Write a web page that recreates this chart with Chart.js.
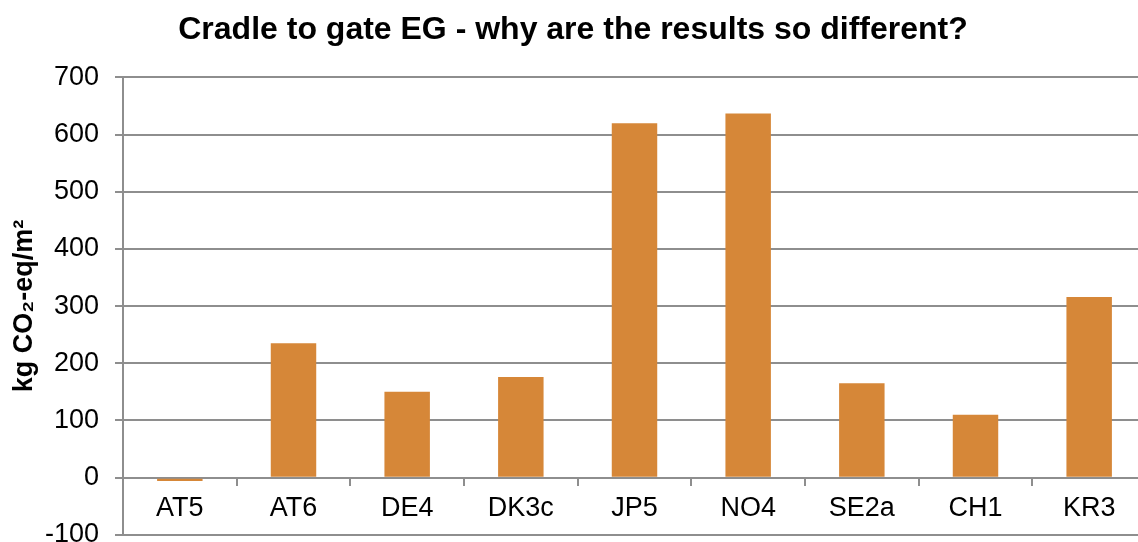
<!DOCTYPE html>
<html>
<head>
<meta charset="utf-8">
<title>Cradle to gate EG</title>
<script src="https://cdn.jsdelivr.net/npm/chart.js@4"></script>
<style>
  html, body { margin: 0; padding: 0; background: #fff; overflow: hidden; }
  #frame { width: 1138px; height: 542px; overflow: hidden; }
  #wrap { position: relative; width: 1151px; height: 567px; }
</style>
</head>
<body>
<div id="frame"><div id="wrap"><canvas id="egChart"></canvas></div></div>
<script>
// Embodied GHG per case, kg CO2-eq per m2
const cases = ['AT5', 'AT6', 'DE4', 'DK3c', 'JP5', 'NO4', 'SE2a', 'CH1', 'KR3'];
const emissions = [-6, 235, 150, 176, 620, 637, 165, 110, 316];
const yTicks = [-100, 0, 100, 200, 300, 400, 500, 600, 700];

const FONT = 'Arial, "Liberation Sans", sans-serif';
const GRID = '#8e8e8e';

new Chart(document.getElementById('egChart'), {
  type: 'bar',
  data: {
    labels: cases,
    datasets: [{
      data: emissions,
      backgroundColor: '#d68738',
      borderWidth: 0,
      barPercentage: 0.4,
      categoryPercentage: 1
    }]
  },
  options: {
    responsive: true,
    maintainAspectRatio: false,
    animation: false,
    layout: { padding: { top: 0, right: 5, bottom: 0, left: 0 } },
    plugins: {
      legend: { display: false },
      tooltip: { enabled: false },
      title: {
        display: true,
        text: 'Cradle to gate EG - why are the results so different?',
        color: '#000',
        font: { family: FONT, size: 32, weight: 'bold' },
        padding: { top: 11, bottom: 28 }
      }
    },
    scales: {
      x: {
        position: { y: 0 },
        offset: true,
        grid: {
          offset: true,
          drawOnChartArea: false,
          drawTicks: true,
          tickLength: 7,
          color: GRID,
          lineWidth: 2
        },
        border: { display: true, color: GRID, width: 2 },
        ticks: {
          color: '#000',
          padding: 8,
          maxRotation: 0,
          font: { family: FONT, size: 27 }
        }
      },
      y: {
        min: -100,
        max: 700,
        afterBuildTicks: (scale) => { scale.ticks = yTicks.map(v => ({ value: v })); },
        afterFit: (scale) => { scale.width = 123; },
        grid: { color: GRID, lineWidth: 2, tickLength: 8 },
        border: { display: true, color: GRID, width: 2 },
        ticks: {
          color: '#000',
          padding: 16,
          font: { family: FONT, size: 27 }
        },
        title: {
          display: true,
          text: 'kg CO\u2082-eq/m\u00b2',
          color: '#000',
          font: { family: FONT, size: 27, weight: 'bold' },
          padding: { top: 8, bottom: 0 }
        }
      }
    }
  }
});
</script>
</body>
</html>
